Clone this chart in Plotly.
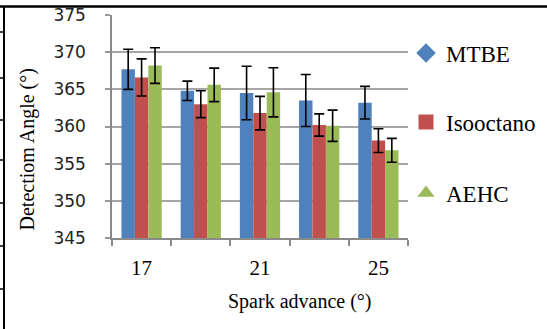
import plotly.graph_objects as go

categories = ["17", "19", "21", "23", "25"]
tick_labels = ["17", "", "21", "", "25"]
series_names = ["MTBE", "Isooctano", "AEHC"]
mtbe = [367.7, 364.8, 364.5, 363.5, 363.2]
mtbe_err = [2.7, 1.3, 3.6, 3.5, 2.2]
isooctano = [366.6, 363.0, 361.8, 360.2, 358.1]
isooctano_err = [2.5, 1.8, 2.25, 1.5, 1.6]
aehc = [368.2, 365.6, 364.6, 360.1, 356.8]
aehc_err = [2.4, 2.25, 3.3, 2.1, 1.6]

colors = ["#4F81BD", "#C0504D", "#9BBB59"]
symbols = ["diamond", "square", "triangle-up"]

W, H = 547, 329
L, R, T, B = 112, 408, 15, 238


def px(x):
    return (x - L) / (R - L)


def py(y):
    return (B - y) / (B - T)


fig = go.Figure()
for name, vals, errs, col in zip(series_names, [mtbe, isooctano, aehc],
                                 [mtbe_err, isooctano_err, aehc_err], colors):
    fig.add_trace(go.Bar(
        x=categories, y=vals, name=name, marker_color=col, showlegend=False,
        marker_line_width=0,
        error_y=dict(type="data", array=errs, visible=True, color="black",
                     thickness=1.6, width=5),
    ))

legend_ys = [53, 122, 193]
for i, (name, col, sym) in enumerate(zip(series_names, colors, symbols)):
    lg = "legend" if i == 0 else f"legend{i+1}"
    fig.add_trace(go.Scatter(
        x=[None], y=[None], mode="markers", name=name,
        marker=dict(symbol=sym, color=col, size=15),
        legend=lg, showlegend=True,
    ))

serif = "Liberation Serif, Times New Roman, serif"
legs = {}
for i, yy in enumerate(legend_ys):
    key = "legend" if i == 0 else f"legend{i+1}"
    legs[key] = dict(x=406 / W, y=1 - yy / H, xref="container", yref="container",
                     xanchor="left", yanchor="middle",
                     bgcolor="rgba(0,0,0,0)", borderwidth=0,
                     font=dict(family=serif, size=23, color="black"))
fig.update_layout(**legs)

fig.update_layout(
    width=W, height=H,
    margin=dict(l=L, r=W - R, t=T, b=H - B, pad=0, autoexpand=False),
    paper_bgcolor="white", plot_bgcolor="white",
    barmode="group", bargap=0.32, bargroupgap=0,
    xaxis=dict(type="category", tickvals=categories, ticktext=tick_labels,
               tickson="boundaries", ticks="outside", ticklen=6,
               tickcolor="#8a8a8a", tickwidth=1.5, automargin=False,
               showline=True, linecolor="#8a8a8a", linewidth=1.5,
               showgrid=False, ticklabelstandoff=10,
               tickfont=dict(family=serif, size=21, color="black")),
    yaxis=dict(range=[345, 375], dtick=5, tick0=345, ticks="outside",
               ticklen=5, tickcolor="#9a9a9a", tickwidth=1.5, automargin=False,
               showline=True, linecolor="#8a8a8a", linewidth=1.5,
               showgrid=True, gridcolor="#a6a6a6", gridwidth=1.5,
               zeroline=False, ticklabelstandoff=16,
               tickfont=dict(family="DejaVu Sans", size=17, color="#222")),
    font=dict(family=serif),
)

fig.add_annotation(text="Spark advance (°)", xref="paper", yref="paper",
                   x=px(300), y=py(301), xanchor="center", yanchor="middle",
                   showarrow=False,
                   font=dict(family=serif, size=20, color="black"))
fig.add_annotation(text="Detectiom Angle (°)", xref="paper", yref="paper",
                   x=px(26.5), y=py(150), xanchor="center", yanchor="middle",
                   textangle=-90, showarrow=False,
                   font=dict(family=serif, size=20, color="black"))

# page border lines
fig.add_shape(type="line", xref="paper", yref="paper", x0=px(0), x1=px(547),
              y0=py(6.5), y1=py(6.5), line=dict(color="black", width=2.5),
              layer="above")
fig.add_shape(type="line", xref="paper", yref="paper", x0=px(4), x1=px(4),
              y0=py(6.5), y1=py(329), line=dict(color="black", width=2),
              layer="above")
for yy in [32, 78, 120, 160, 203, 246, 289]:
    fig.add_shape(type="line", xref="paper", yref="paper", x0=px(0), x1=px(4),
                  y0=py(yy), y1=py(yy), line=dict(color="black", width=1.5),
                  layer="above")

fig.write_html("out.html", config={"displayModeBar": False},
               post_script="document.body.style.margin='0';document.body.style.padding='0';")
